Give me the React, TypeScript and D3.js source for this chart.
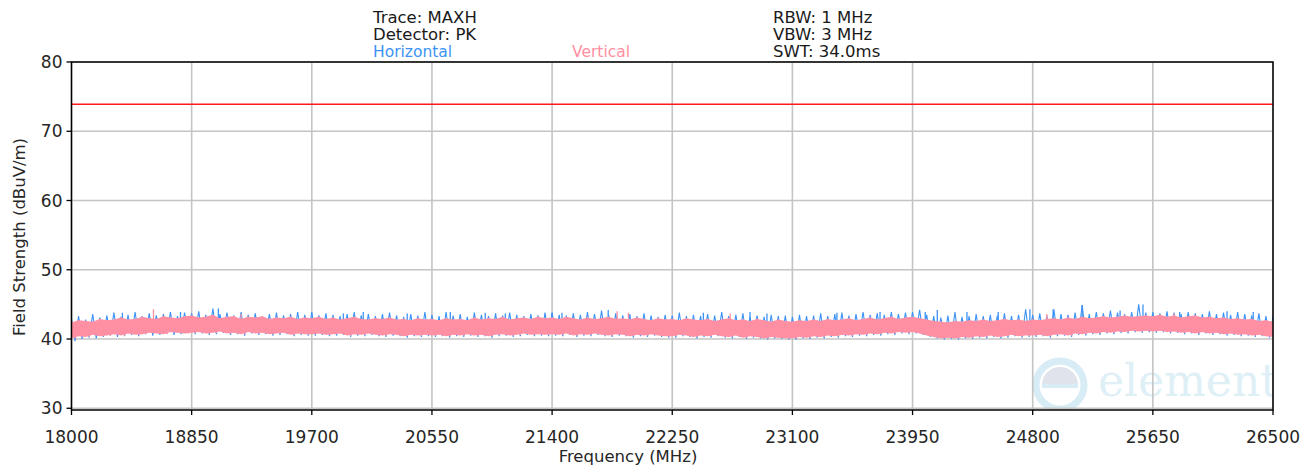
import React from "react";
import * as d3 from "d3";

// ---------- data ----------
const freqStart = 18000;
const freqStep = 50; // MHz between decimated samples (max/min pairs)
const xTicks = [18000, 18850, 19700, 20550, 21400, 22250, 23100, 23950, 24800, 25650, 26500];
const yTicks = [30, 40, 50, 60, 70, 80];
const limitLine = 73.9;

// Horizontal (blue) trace: per-sample max and min, dBuV/m
const hTop = [
  42.9, 43.3, 42.8, 43.6, 43.1, 43.4, 43.8, 43.2, 43.5, 43.9, 43.3, 43.7, 43.4, 43.6, 43.9, 43.3, 43.8,
  43.7, 44.0, 43.5, 44.4, 43.6, 43.8, 43.4, 43.9, 43.5, 43.7, 43.3, 43.6, 43.8, 43.4, 43.6, 43.9, 43.5,
  43.9, 43.4, 43.7, 43.5, 43.3, 43.6, 43.9, 43.4, 43.6, 43.3, 43.5, 43.8, 43.4, 43.2, 43.6, 43.4, 43.9,
  43.5, 43.3, 43.9, 43.4, 43.6, 43.2, 43.8, 43.5, 43.3, 43.7, 43.4, 43.8, 43.5, 43.3, 43.6, 43.4, 43.8,
  43.8, 43.5, 43.4, 43.7, 43.5, 43.9, 43.6, 44.1, 43.5, 43.7, 43.4, 43.6, 43.3, 43.7, 43.4, 43.2, 43.5,
  43.4, 43.8, 43.3, 43.5, 43.3, 43.6, 43.4, 43.9, 43.3, 43.5, 43.7, 43.2, 43.4, 43.2, 43.5, 43.3, 43.4,
  43.2, 43.5, 43.3, 43.4, 43.7, 43.3, 43.6, 43.8, 43.4, 43.6, 43.9, 43.5, 43.7, 43.5, 43.9, 43.6, 43.8,
  43.9, 44.2, 43.5, 43.3, 43.1, 43.4, 43.9, 43.2, 43.3, 43.6, 43.3, 43.5, 43.4, 43.7, 43.3, 43.5, 44.3,
  43.5, 43.7, 43.4, 44.3, 43.6, 43.5, 43.8, 44.9, 43.6, 43.9, 43.7, 44.1, 43.8, 43.6, 43.9, 45.0, 43.8,
  43.9, 43.7, 44.0, 43.8, 43.6, 43.9, 43.7, 43.6, 44.0, 43.6, 43.8, 43.5, 43.9, 43.6, 43.4, 43.7, 43.3, 43.2,
];
const hBot = [
  39.7, 40.0, 40.2, 40.1, 40.3, 40.5, 40.3, 40.4, 40.6, 40.4, 40.7, 40.5, 40.6, 40.8, 40.6, 40.7, 40.9,
  40.7, 40.8, 40.6, 40.7, 40.9, 40.6, 40.7, 40.5, 40.8, 40.6, 40.7, 40.5, 40.6, 40.7, 40.4, 40.6, 40.5,
  40.5, 40.6, 40.4, 40.5, 40.6, 40.3, 40.5, 40.4, 40.6, 40.4, 40.3, 40.5, 40.4, 40.2, 40.4, 40.3, 40.4,
  40.3, 40.4, 40.2, 40.4, 40.3, 40.5, 40.3, 40.4, 40.2, 40.4, 40.5, 40.3, 40.4, 40.6, 40.4, 40.5, 40.4,
  40.5, 40.4, 40.6, 40.3, 40.5, 40.4, 40.6, 40.4, 40.3, 40.5, 40.4, 40.2, 40.4, 40.3, 40.5, 40.3, 40.2,
  40.2, 40.4, 40.3, 40.1, 40.3, 40.2, 40.4, 40.2, 40.1, 40.3, 40.0, 40.2, 40.1, 39.9, 40.1, 40.0, 39.9,
  39.9, 40.1, 40.0, 40.2, 40.1, 40.3, 40.2, 40.4, 40.3, 40.5, 40.4, 40.6, 40.5, 40.7, 40.6, 40.8, 40.7,
  40.8, 40.6, 40.3, 40.1, 39.9, 40.0, 39.9, 40.1, 40.0, 40.2, 40.1, 40.3, 40.1, 40.2, 40.4, 40.2, 40.3,
  40.3, 40.4, 40.2, 40.4, 40.5, 40.3, 40.6, 40.5, 40.7, 40.6, 40.8, 40.7, 40.9, 40.8, 41.0, 40.9, 41.0,
  40.9, 41.0, 40.8, 40.9, 40.7, 40.8, 40.6, 40.8, 40.6, 40.7, 40.5, 40.6, 40.4, 40.5, 40.3, 40.4, 40.2, 40.1,
];
// Vertical (pink) trace: per-sample max and min, dBuV/m
const vTop = [
  42.4, 42.7, 42.6, 42.5, 42.9, 42.7, 42.8, 43.1, 42.8, 42.9, 43.2, 43.0, 42.9, 43.3, 43.1, 43.0, 43.3,
  43.4, 43.1, 43.2, 43.5, 43.0, 43.2, 43.3, 42.9, 43.2, 43.1, 43.3, 42.9, 43.1, 43.0, 43.2, 42.9, 43.1,
  43.0, 43.2, 42.9, 43.1, 42.8, 43.0, 43.2, 42.9, 42.8, 43.0, 42.9, 43.1, 42.8, 42.9, 42.7, 43.0, 42.8,
  42.9, 42.7, 43.0, 42.8, 42.9, 42.7, 43.1, 42.8, 43.0, 42.9, 43.2, 42.8, 43.0, 43.1, 42.9, 43.2, 43.0,
  43.1, 42.9, 43.2, 43.0, 42.8, 43.1, 42.9, 43.0, 43.2, 42.9, 43.0, 42.8, 43.1, 42.9, 42.7, 43.0, 42.8,
  42.9, 42.7, 43.0, 42.8, 42.7, 42.9, 42.6, 42.8, 43.0, 42.7, 42.8, 42.6, 42.9, 42.7, 42.5, 42.8, 42.6,
  42.5, 42.7, 42.6, 42.8, 42.6, 42.9, 42.7, 42.8, 43.0, 42.7, 42.9, 43.1, 42.8, 43.0, 43.2, 42.9, 43.1,
  43.2, 43.0, 42.8, 42.6, 42.5, 42.4, 42.6, 42.5, 42.7, 42.6, 42.8, 42.6, 42.7, 42.9, 42.7, 42.8, 42.6,
  42.8, 42.7, 42.9, 43.0, 42.8, 43.1, 42.9, 43.2, 43.0, 43.1, 43.3, 43.1, 43.2, 43.4, 43.2, 43.3, 43.4,
  43.3, 43.5, 43.2, 43.4, 43.1, 43.3, 43.4, 43.1, 43.2, 43.0, 43.1, 42.9, 43.0, 42.8, 42.9, 42.6, 42.7, 42.5,
];
const vBot = [
  40.1, 40.4, 40.3, 40.6, 40.4, 40.5, 40.7, 40.5, 40.8, 40.6, 40.7, 40.9, 40.8, 40.7, 41.0, 40.9, 40.8,
  40.9, 41.0, 40.8, 40.9, 41.1, 40.8, 40.9, 40.7, 41.0, 40.8, 40.9, 40.7, 40.8, 40.9, 40.6, 40.8, 40.7,
  40.7, 40.8, 40.6, 40.7, 40.8, 40.5, 40.7, 40.6, 40.8, 40.6, 40.5, 40.7, 40.6, 40.4, 40.6, 40.5, 40.6,
  40.5, 40.6, 40.4, 40.6, 40.5, 40.7, 40.5, 40.6, 40.4, 40.6, 40.7, 40.5, 40.6, 40.8, 40.6, 40.7, 40.6,
  40.7, 40.6, 40.8, 40.5, 40.7, 40.6, 40.8, 40.6, 40.5, 40.7, 40.6, 40.4, 40.6, 40.5, 40.7, 40.5, 40.4,
  40.4, 40.6, 40.5, 40.3, 40.5, 40.4, 40.6, 40.4, 40.3, 40.5, 40.2, 40.4, 40.3, 40.1, 40.3, 40.2, 40.1,
  40.1, 40.3, 40.2, 40.4, 40.3, 40.5, 40.4, 40.6, 40.5, 40.7, 40.6, 40.8, 40.7, 40.9, 40.8, 41.0, 40.9,
  41.0, 40.8, 40.5, 40.3, 40.1, 40.2, 40.1, 40.3, 40.2, 40.4, 40.3, 40.5, 40.3, 40.4, 40.6, 40.4, 40.5,
  40.5, 40.6, 40.4, 40.6, 40.7, 40.5, 40.8, 40.7, 40.9, 40.8, 41.0, 40.9, 41.1, 41.0, 41.2, 41.1, 41.2,
  41.1, 41.2, 41.0, 41.1, 40.9, 41.0, 40.8, 41.0, 40.8, 40.9, 40.7, 40.8, 40.6, 40.7, 40.5, 40.6, 40.4, 40.3,
];
// Individual peaks standing out of the traces: frequency (MHz), level
const hSpikeFreq = [18360, 18771, 19039, 19923, 20064, 20200, 20375, 20680, 20927, 21069, 21400, 21470, 21797, 22470, 22800, 22920, 23415, 23720, 24040, 24125, 24335, 24556, 24780, 24945, 25150, 25418, 25580, 25840, 26175, 26360];
const hSpikeLevel = [43.8, 43.9, 44.4, 43.7, 43.9, 43.6, 43.7, 43.9, 43.8, 43.7, 43.8, 43.8, 44.2, 43.8, 43.9, 43.7, 43.8, 43.9, 43.9, 44.2, 43.9, 43.9, 44.3, 44.3, 44.9, 44.1, 45.0, 43.9, 44.0, 43.9];
const vSpikeFreq = [18580, 19200, 21860, 21940, 22660, 24900, 25800];
const vSpikeLevel = [44.3, 43.6, 44.0, 43.8, 43.7, 43.6, 43.7];

const traceInfo = ["Trace: MAXH", "Detector: PK"];
const sweepInfo = ["RBW: 1 MHz", "VBW: 3 MHz", "SWT: 34.0ms"];
const seriesNames = ["Horizontal", "Vertical"];

// ---------- layout ----------
const W = 1315, H = 467;
const L = 71.5, R = 1273, T = 62, B = 410;
const BLUE = "#3d93f5";
const PINK = "#ff8fa2";
const FONT = "DejaVu Sans, sans-serif";

export default function App() {
  const x = d3.scaleLinear().domain([18000, 26500]).range([L, R]);
  const y = d3.scaleLinear().domain([29.75, 80]).range([B, T]);
  const fAt = (k: number) => freqStart + k * freqStep;

  // max/min pairs drawn as a connected trace (max at sample start, min half a step later)
  const zigzag = (top: number[], bot: number[]) => {
    const pts: [number, number][] = [];
    top.forEach((v, k) => {
      pts.push([fAt(k), v]);
      if (k < top.length - 1) pts.push([fAt(k) + freqStep / 2, bot[k]]);
    });
    return (
      d3
        .line<[number, number]>()
        .x((p) => x(p[0]))
        .y((p) => y(p[1]))(pts) || ""
    );
  };
  const band = (lo: number[], hi: number[]) =>
    d3
      .area<number>()
      .x((_, k) => x(fAt(k)))
      .y0((_, k) => y(lo[k]))
      .y1((_, k) => y(hi[k]))(lo) || "";
  const idx = (f: number) => Math.min(vTop.length - 1, Math.round((f - freqStart) / freqStep));

  return (
    <svg
      width={W}
      height={H}
      style={{ position: "absolute", left: 0, top: 0, background: "#fff" }}
      fontFamily={FONT}
    >
      <defs>
        <clipPath id="plot">
          <rect x={L} y={T} width={R - L} height={B - T} />
        </clipPath>
      </defs>
      <rect x={0} y={0} width={W} height={H} fill="#fff" />

      {/* watermark */}
      <g clipPath="url(#plot)" opacity={0.9}>
        <circle cx={1060} cy={385} r={24} fill="none" stroke="#d3ebf4" strokeWidth={7} />
        <path d="M1042,385 A18,18 0 0 1 1078,385 Z" fill="#dde1ea" />
        <rect x={1042} y={384} width={36} height={4} fill="#d3ebf4" />
        <text x={1098} y={396} fontFamily="DejaVu Serif, serif" fontSize={44} fill="#dbeff6">
          element
        </text>
      </g>

      {/* grid */}
      <g stroke="#c4c4c4" strokeWidth={1.6}>
        {xTicks.map((t) => (
          <line key={"gx" + t} x1={x(t)} x2={x(t)} y1={T} y2={B} />
        ))}
        {yTicks.map((t) => (
          <line key={"gy" + t} x1={L} x2={R} y1={y(t)} y2={y(t)} />
        ))}
      </g>

      {/* limit */}
      <line x1={L} x2={R} y1={y(limitLine)} y2={y(limitLine)} stroke="#ff1a1a" strokeWidth={1.6} />

      {/* traces */}
      <g clipPath="url(#plot)">
        <path d={zigzag(hTop, hBot)} fill="none" stroke={BLUE} strokeWidth={1.1} />
        {hSpikeFreq.map((f, i) => (
          <line
            key={"hs" + i}
            x1={x(f)}
            x2={x(f)}
            y1={y(hSpikeLevel[i])}
            y2={y(vTop[idx(f)] - 0.3)}
            stroke={BLUE}
            strokeWidth={1.3}
          />
        ))}
        <path d={band(vBot, vTop)} fill={PINK} />
        <path d={zigzag(vTop, vBot)} fill="none" stroke={PINK} strokeWidth={1.2} />
        {vSpikeFreq.map((f, i) => (
          <line
            key={"vs" + i}
            x1={x(f)}
            x2={x(f)}
            y1={y(vSpikeLevel[i])}
            y2={y(vTop[idx(f)] - 0.3)}
            stroke={PINK}
            strokeWidth={1.3}
          />
        ))}
      </g>

      {/* spines */}
      <rect x={L} y={T} width={R - L} height={B - T} fill="none" stroke="#000" strokeWidth={1.5} />

      {/* ticks */}
      <g stroke="#000" strokeWidth={1.3}>
        {xTicks.map((t) => (
          <line key={"tx" + t} x1={x(t)} x2={x(t)} y1={B} y2={B + 5} />
        ))}
        {yTicks.map((t) => (
          <line key={"ty" + t} x1={L - 5} x2={L} y1={y(t)} y2={y(t)} />
        ))}
      </g>
      <g fontSize={17} fill="#262626">
        {xTicks.map((t) => (
          <text key={"lx" + t} x={x(t)} y={443} textAnchor="middle">
            {t}
          </text>
        ))}
        {yTicks.map((t) => (
          <text key={"ly" + t} x={L - 9} y={y(t) + 6} textAnchor="end">
            {t}
          </text>
        ))}
      </g>

      {/* axis labels */}
      <text x={628} y={462} textAnchor="middle" fontSize={16.5} fill="#262626">
        Frequency (MHz)
      </text>
      <text
        transform={`translate(25,237) rotate(-90)`}
        textAnchor="middle"
        fontSize={16.5}
        fill="#262626"
      >
        Field Strength (dBuV/m)
      </text>

      {/* header info */}
      <g fontSize={16.5} fill="#1a1a1a">
        {traceInfo.map((s, i) => (
          <text key={"ti" + i} x={373} y={23 + i * 17}>
            {s}
          </text>
        ))}
        {sweepInfo.map((s, i) => (
          <text key={"si" + i} x={773} y={23 + i * 17}>
            {s}
          </text>
        ))}
      </g>
      <text x={373} y={57} fontSize={15.5} fill={BLUE}>
        {seriesNames[0]}
      </text>
      <text x={572} y={57} fontSize={15.5} fill={PINK}>
        {seriesNames[1]}
      </text>
    </svg>
  );
}
